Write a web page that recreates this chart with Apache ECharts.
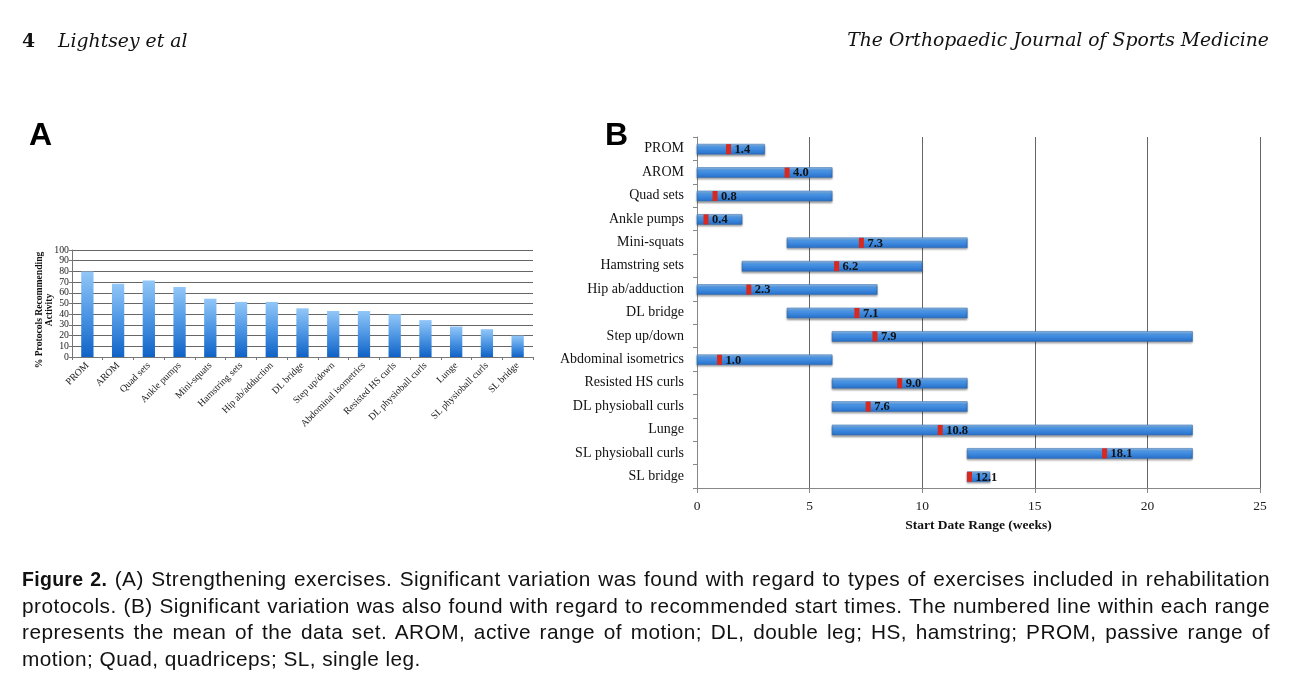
<!DOCTYPE html>
<html>
<head>
<meta charset="utf-8">
<script src="https://cdn.jsdelivr.net/npm/echarts@6/dist/echarts.min.js"></script>
<style>
html,body{margin:0;padding:0;background:#fff;width:1296px;height:681px;overflow:hidden;}
#chart{position:absolute;left:0;top:0;width:1296px;height:681px;}
.hdr{position:absolute;top:29px;font-family:"DejaVu Serif",serif;font-size:18.8px;font-style:italic;color:#111;white-space:nowrap;}
.cap{position:absolute;left:22px;top:566px;width:1248px;font-family:"Liberation Sans",Arial,sans-serif;font-size:20.8px;letter-spacing:0.45px;color:#111;}
.cap div{line-height:26.6px;text-align:justify;text-align-last:justify;white-space:nowrap;}
.cap div.last{text-align-last:left;}
.cap b{letter-spacing:0.3px;font-size:19.5px;}
.panel{position:absolute;font-family:"Liberation Sans",Arial,sans-serif;font-weight:bold;font-size:32px;color:#000;}
</style>
</head>
<body>
<div id="chart"></div>
<div class="hdr" style="left:22px;"><span style="font-style:normal;font-weight:bold;">4</span><span style="display:inline-block;width:23px;"></span>Lightsey et al</div>
<div class="hdr" style="right:27px;">The Orthopaedic Journal of Sports Medicine</div>
<div class="panel" style="left:29px;top:116px;">A</div>
<div class="panel" style="left:605px;top:116px;">B</div>
<div class="cap">
<div><b>Figure 2.</b> (A) Strengthening exercises. Significant variation was found with regard to types of exercises included in rehabilitation</div>
<div>protocols. (B) Significant variation was also found with regard to recommended start times. The numbered line within each range</div>
<div>represents the mean of the data set. AROM, active range of motion; DL, double leg; HS, hamstring; PROM, passive range of</div>
<div class="last">motion; Quad, quadriceps; SL, single leg.</div>
</div>
<script>
// ---- Panel A data ----
const categoriesA = ["PROM","AROM","Quad sets","Ankle pumps","Mini-squats","Hamstring sets","Hip ab/adduction","DL bridge","Step up/down","Abdominal isometrics","Resisted HS curls","DL physioball curls","Lunge","SL physioball curls","SL bridge"];
const percentA = [80, 68.5, 71.5, 65.5, 54.5, 51.5, 51.5, 45.5, 43, 43, 40, 34.5, 28.5, 26, 20];
const yTicksA = [0,10,20,30,40,50,60,70,80,90,100];
const yNameA = ["% Protocols Recommending", "Activity"];

// ---- Panel B data ----
const categoriesB = ["PROM","AROM","Quad sets","Ankle pumps","Mini-squats","Hamstring sets","Hip ab/adduction","DL bridge","Step up/down","Abdominal isometrics","Resisted HS curls","DL physioball curls","Lunge","SL physioball curls","SL bridge"];
const startB = [0, 0, 0, 0, 4, 2, 0, 4, 6, 0, 6, 6, 6, 12, 12];
const endB   = [3, 6, 6, 2, 12, 10, 8, 12, 22, 6, 12, 12, 22, 22, 13];
const meanB  = [1.4, 4.0, 0.8, 0.4, 7.3, 6.2, 2.3, 7.1, 7.9, 1.0, 9.0, 7.6, 10.8, 18.1, 12.1];
const xTicksB = [0,5,10,15,20,25];
const xNameB = "Start Date Range (weeks)";

const serif = '"Liberation Serif", "DejaVu Serif", serif';
const chart = echarts.init(document.getElementById('chart'));

const rangeData = categoriesB.map((c,i)=>[startB[i], endB[i], i, meanB[i]]);

chart.setOption({
  animation:false,
  grid:[
    {left:72, right:763, top:250, bottom:324, containLabel:false},
    {left:697, right:36, top:137, bottom:193, containLabel:false}
  ],
  graphic:[
    {type:'text', x:45, y:310, rotation:Math.PI/2, origin:[0,0],
     style:{text:yNameA.join('\n'), font:'bold 9.6px '+serif, fill:'#111', align:'center', verticalAlign:'middle', lineHeight:10}}
  ],
  xAxis:[
    {gridIndex:0, type:'category', data:categoriesA,
     axisLine:{lineStyle:{color:'#777'}}, axisTick:{show:true, length:3, lineStyle:{color:'#777'}},
     axisLabel:{interval:0, rotate:45, fontFamily:serif, fontSize:9.8, color:'#222', margin:7}},
    {gridIndex:1, type:'value', min:xTicksB[0], max:xTicksB[xTicksB.length-1], interval:5,
     axisLine:{show:true, lineStyle:{color:'#888'}}, axisTick:{show:true, length:5, lineStyle:{color:'#888'}},
     splitLine:{show:true, lineStyle:{color:'#666', width:1}},
     axisLabel:{fontFamily:serif, fontSize:13.5, color:'#222', margin:11},
     name:xNameB, nameLocation:'middle', nameGap:31,
     nameTextStyle:{fontFamily:serif, fontSize:13.5, fontWeight:'bold', color:'#111'}}
  ],
  yAxis:[
    {gridIndex:0, type:'value', min:0, max:100, interval:10,
     axisLine:{show:true, lineStyle:{color:'#777'}}, axisTick:{show:true, length:3, lineStyle:{color:'#777'}},
     splitLine:{show:true, lineStyle:{color:'#666', width:1}},
     axisLabel:{fontFamily:serif, fontSize:9.8, color:'#222', margin:3,
       formatter:v=> yTicksA.includes(v) ? String(v) : ''}},
    {gridIndex:1, type:'category', data:categoriesB, inverse:true,
     axisLine:{show:true, lineStyle:{color:'#888'}}, axisTick:{show:true, length:4, lineStyle:{color:'#888'}},
     splitLine:{show:false},
     axisLabel:{interval:0, fontFamily:serif, fontSize:14, color:'#111', margin:13, padding:[6,0,0,0]}}
  ],
  series:[
    {type:'bar', xAxisIndex:0, yAxisIndex:0, data:percentA, barWidth:'40%',
     itemStyle:{color:new echarts.graphic.LinearGradient(0,0,0,1,[
       {offset:0,color:'#92c7f8'},{offset:0.5,color:'#4d96e4'},{offset:1,color:'#0f62c6'}])}},
    {type:'custom', xAxisIndex:1, yAxisIndex:1, data:rangeData,
     encode:{x:[0,1], y:2},
     renderItem:function(params, api){
       const s = api.coord([api.value(0), api.value(2)]);
       const e = api.coord([api.value(1), api.value(2)]);
       const m = api.coord([api.value(3), api.value(2)]);
       const h = 10;
       const y0 = s[1]-h/2+0.5;
       return {type:'group', children:[
         {type:'rect', shape:{x:s[0], y:y0, width:e[0]-s[0], height:h},
          style:{fill:new echarts.graphic.LinearGradient(0,0,0,1,[
            {offset:0,color:'#9ccaf5'},{offset:0.3,color:'#4d97e6'},{offset:0.8,color:'#2f7ad3'},{offset:1,color:'#2a6bbd'}]),
            stroke:'#3a6fae', lineWidth:0.6, shadowBlur:2, shadowOffsetY:1.5, shadowColor:'rgba(0,0,0,0.35)'}},
         {type:'rect', shape:{x:m[0]-2.5, y:y0, width:5, height:h},
          style:{fill:'#d9281e'}},
         {type:'text', x:m[0]+6, y:s[1]+1,
          style:{text:api.value(3).toFixed(1), fill:'#111', font:'bold 12.5px '+serif,
            verticalAlign:'middle', align:'left'}}
       ]};
     }}
  ]
});
</script>
</body>
</html>
